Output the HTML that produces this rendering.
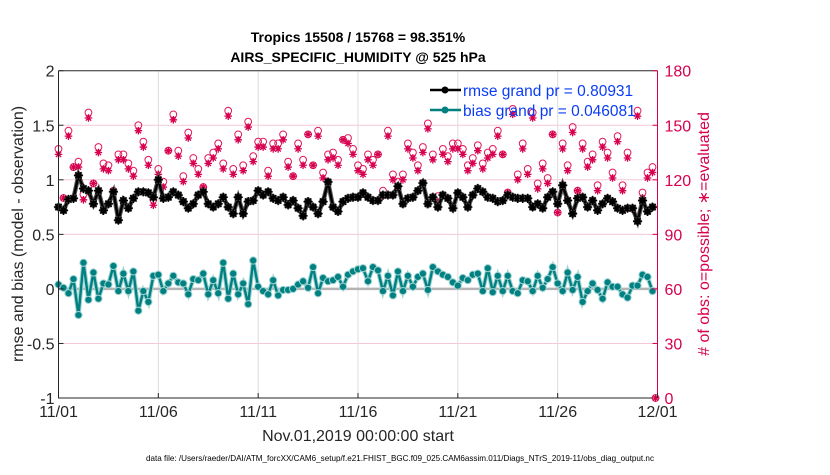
<!DOCTYPE html>
<html><head><meta charset="utf-8"><style>
body{margin:0;background:#fff;}
svg text{font-family:"Liberation Sans",sans-serif;}
</style></head><body>
<svg id="chart" width="830" height="470" viewBox="0 0 830 470" xmlns="http://www.w3.org/2000/svg">
<rect width="830" height="470" fill="#fff"/>
<text x="358" y="42" font-size="14" font-weight="bold" text-anchor="middle">Tropics 15508 / 15768 = 98.351%</text>
<text x="358" y="62" font-size="14" font-weight="bold" text-anchor="middle">AIRS_SPECIFIC_HUMIDITY @ 525 hPa</text>
<g id="grid"></g>
<g id="marks"></g>
<g id="axes"></g>
<text transform="translate(23,234) rotate(-90)" font-size="16" text-anchor="middle" fill="#262626">rmse and bias (model - observation)</text>
<text transform="translate(709,234) rotate(-90)" font-size="16" text-anchor="middle" fill="#d6004f"># of obs: o=possible; ∗=evaluated</text>
<text x="358" y="441" font-size="16" text-anchor="middle" fill="#262626">Nov.01,2019 00:00:00 start</text>
<text x="400" y="461" font-size="8.1" text-anchor="middle" textLength="508" lengthAdjust="spacingAndGlyphs">data file: /Users/raeder/DAI/ATM_forcXX/CAM6_setup/f.e21.FHIST_BGC.f09_025.CAM6assim.011/Diags_NTrS_2019-11/obs_diag_output.nc</text>
<g>
<line x1="430" y1="90" x2="461" y2="90" stroke="#000" stroke-width="2.5"/><circle cx="445" cy="90" r="3.5" fill="#000"/>
<text x="463" y="96" font-size="15.5" fill="#0a3cf5">rmse grand pr = 0.80931</text>
<line x1="430" y1="110" x2="461" y2="110" stroke="#008080" stroke-width="2.5"/><circle cx="445" cy="110" r="3.5" fill="#008080"/>
<text x="463" y="116" font-size="15.5" fill="#0a3cf5">bias grand pr = 0.046081</text>
</g>
</svg>
<script>
const rmse=[0.75,0.72,0.82,0.83,1.04,0.92,0.9,0.78,0.9,0.72,0.78,0.89,0.63,0.81,0.74,0.83,0.89,0.89,0.88,0.84,1.0,0.83,0.84,0.89,0.86,0.8,0.74,0.78,0.86,0.89,0.78,0.75,0.78,0.84,0.75,0.69,0.84,0.69,0.8,0.81,
0.9,0.86,0.89,0.83,0.81,0.84,0.77,0.81,0.74,0.67,0.8,0.75,0.69,0.8,0.98,0.75,0.71,0.8,0.83,0.84,0.84,0.88,0.84,0.81,0.81,0.86,0.86,0.86,0.94,0.78,0.83,0.84,0.9,0.97,0.78,0.84,0.75,0.86,0.83,0.74,
0.88,0.84,0.75,0.86,0.92,0.89,0.84,0.83,0.8,0.81,0.86,0.84,0.83,0.83,0.83,0.75,0.78,0.74,0.84,0.89,0.78,0.95,0.81,0.69,0.83,0.84,0.75,0.81,0.72,0.78,0.83,0.8,0.74,0.72,0.74,0.74,0.62,0.81,0.71,0.75];
const bias=[0.04,0.01,-0.04,0.09,-0.24,0.24,-0.1,0.15,-0.09,0.05,0.04,0.21,-0.02,0.14,-0.02,0.16,-0.2,-0.02,-0.12,0.12,0.13,-0.02,0.05,0.12,0.06,0.05,-0.05,0.09,0.08,0.14,-0.05,0.08,-0.04,0.24,-0.09,0.14,-0.05,0.05,-0.14,0.26,
0.02,-0.02,-0.05,0.08,-0.06,-0.01,-0.01,0,0.04,0.07,0.01,0.2,-0.04,0.1,0.07,0.08,0.11,0.02,0.13,0.16,0.18,0.19,0.07,0.2,0.17,-0.02,0.12,-0.06,0.16,-0.02,0.12,0.02,0.11,0.14,-0.01,0.2,0.16,0.13,0.11,0.06,
0.03,0.1,0.08,0.13,0.14,-0.02,0.19,-0.03,0.12,-0.02,0.12,-0.02,-0.04,0.08,0.07,-0.02,0.12,0.01,0.09,0.2,0.05,-0.02,0.15,-0.01,0.11,-0.12,-0.02,0.05,-0.01,-0.09,0.06,0.02,0.02,-0.05,-0.08,0.03,0.03,0.13,0.11,-0.02];
const possible=[137,110,147,127,130,112,157,118,138,129,128,114,134,134,129,125,150,141,131,109,126,119,136,156,136,122,146,132,126,116,132,135,140,129,158,126,145,128,152,133,
141,141,125,140,140,145,130,122,140,131,145,128,147,124,134,135,131,142,143,137,128,126,134,131,134,114,147,123,119,123,140,135,128,138,151,134,111,137,133,140,
140,137,128,132,139,129,135,137,147,134,113,159,123,140,126,157,118,129,121,145,102,140,128,149,114,140,130,134,117,141,135,124,144,117,135,104,158,113,124,127,0];
const evaluated=[134,110,144,127,127,109,154,118,135,126,125,114,131,131,126,122,147,138,128,106,123,116,136,153,133,119,143,129,123,116,129,132,137,126,155,123,142,125,149,130,
138,138,122,137,137,142,127,122,137,128,145,128,144,121,131,132,128,142,140,134,125,123,131,128,134,111,144,120,116,120,137,132,125,135,148,131,108,134,130,137,
137,134,125,129,136,126,132,134,144,134,113,156,120,137,123,154,115,126,118,145,102,137,125,146,114,137,127,131,114,138,132,121,141,114,132,104,155,110,121,124,0];
const dayTicks=[0,5,10,15,20,25,30];
const dayLabels=["11/01","11/06","11/11","11/16","11/21","11/26","12/01"];
const leftTicks=[-1,-0.5,0,0.5,1,1.5,2];
const rightTicks=[0,30,60,90,120,150,180];

const NS="http://www.w3.org/2000/svg";
const L=58.5,R=657.5,T=70.7,B=398;
const X=d=>L+(d/30)*(R-L);
const Y=v=>T+(2-v)/3*(B-T);
const YR=n=>B-n/180*(B-T);
function mk(tag,attrs,parent){const e=document.createElementNS(NS,tag);for(const k in attrs)e.setAttribute(k,attrs[k]);parent.appendChild(e);return e;}
function star(cx,cy,r){return `M${cx-r},${cy}H${cx+r}M${cx},${cy-r}V${cy+r}M${cx-r*0.7},${cy-r*0.7}L${cx+r*0.7},${cy+r*0.7}M${cx-r*0.7},${cy+r*0.7}L${cx+r*0.7},${cy-r*0.7}`;}
const grid=document.getElementById('grid'),marks=document.getElementById('marks'),axes=document.getElementById('axes');
leftTicks.forEach(v=>{if(v===-1||v===2)return;const g=mk('line',{x1:L,x2:R,y1:Y(v),y2:Y(v),stroke:'#f6c9d8','stroke-width':1},grid);

});
dayTicks.forEach(d=>{if(d===0||d===30)return;const g=mk('line',{x1:X(d),x2:X(d),y1:T,y2:B,stroke:'#dcdcdc','stroke-width':1},grid);

});
const zl=mk('line',{x1:L,x2:R,y1:Y(0),y2:Y(0),stroke:'#b4b4b4','stroke-width':2.5},grid);


possible.forEach((n,i)=>{const d=i<120?i*0.25:29.9;
const c=mk('circle',{cx:X(d),cy:YR(n),r:3.4,fill:'none',stroke:'#e0195a','stroke-width':1},marks);

});
evaluated.forEach((n,i)=>{const d=i<120?i*0.25:29.9;
const p=mk('path',{d:star(X(d),YR(n),3.8),stroke:'#d6004f','stroke-width':1.3,fill:'none'},marks);

});
function series(vals,color,halo,name,isStar){
 const pts=vals.map((v,i)=>X(i*0.25)+','+Y(v)).join(' ');
 const h=mk('polyline',{points:pts,fill:'none',stroke:halo,'stroke-width':4.5},marks);
 
 
 const p=mk('polyline',{points:pts,fill:'none',stroke:color,'stroke-width':2.4},marks);
 
 
 vals.forEach((v,i)=>{const c=mk('circle',{cx:X(i*0.25),cy:Y(v),r:3.6,fill:color,stroke:halo,'stroke-width':1},marks);
 
 
 if(isStar){const s=mk('path',{d:star(X(i*0.25),Y(v),4.6),stroke:color,'stroke-width':1.4},marks);
 
 }});
}
series(bias,'#008080','#9fd3d3','bias',false);
series(rmse,'#000','#555','rmse',true);
const ax=mk('path',{d:`M${L},${T}H${R}M${L},${T}V${B}H${R}`,fill:'none',stroke:'#262626','stroke-width':1},axes);


const ar=mk('line',{x1:R,x2:R,y1:T,y2:B,stroke:'#d6004f','stroke-width':1},axes);


leftTicks.forEach(v=>{const t=mk('text',{x:L-4,y:Y(v)+6,'font-size':16,'text-anchor':'end',fill:'#262626'},axes);t.textContent=String(v);


mk('line',{x1:L,x2:L+5,y1:Y(v),y2:Y(v),stroke:'#262626'},axes);});
rightTicks.forEach(n=>{const t=mk('text',{x:R+7,y:YR(n)+6,'font-size':16,fill:'#d6004f'},axes);t.textContent=String(n);


mk('line',{x1:R-5,x2:R,y1:YR(n),y2:YR(n),stroke:'#d6004f'},axes);});
dayTicks.forEach((d,i)=>{const t=mk('text',{x:X(d),y:B+19,'font-size':16,'text-anchor':'middle',fill:'#262626'},axes);t.textContent=dayLabels[i];


mk('line',{x1:X(d),x2:X(d),y1:B,y2:B-5,stroke:'#262626'},axes);});
</script>
</body></html>
